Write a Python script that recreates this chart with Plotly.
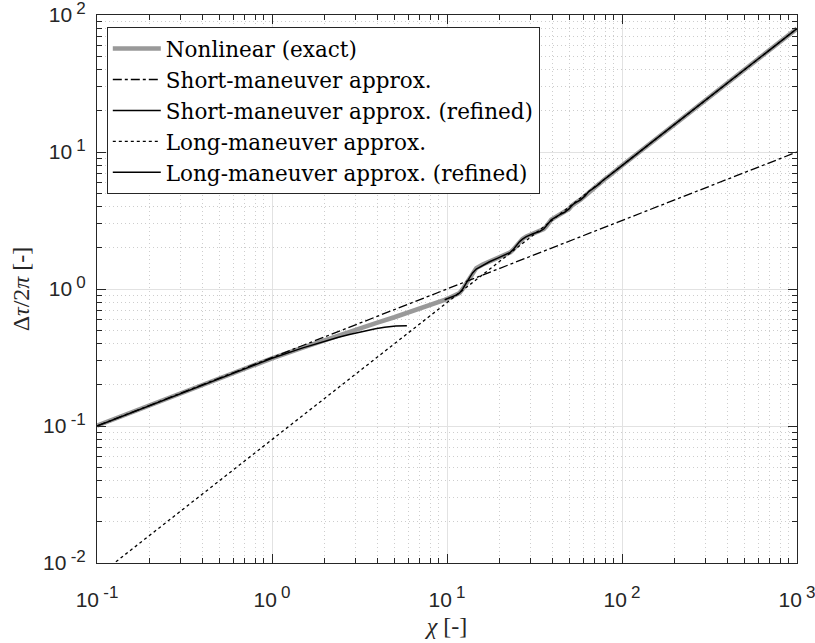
import plotly.graph_objects as go

# --- data -------------------------------------------------------------
# Nonlinear (exact) solution, chi vs delta-tau / 2pi
chi_exact = [0.1, 0.2, 0.5, 1.0, 1.5, 2.0, 3.0, 4.0, 5.0, 6.0, 7.0, 8.0, 9.0,
             9.7, 10.5, 11.2, 11.8, 12.3, 12.9, 13.45, 14.0, 14.7, 16.0, 17.5,
             19.5, 21.8, 23.0, 23.8, 24.6, 25.3, 26.0, 27.0, 28.4, 31.0, 33.8,
             35.7, 36.9, 38.2, 39.4, 41.2, 43.9, 47.0, 49.8, 51.3, 52.8, 55.0,
             58.0, 61.5, 63.2, 64.5, 67.0, 71.0, 74.5, 76.2, 78.0, 80.0, 84.0,
             87.8, 89.5, 92.0, 96.0, 100.0, 150.0, 200.0, 300.0, 500.0, 1000.0]
tau_exact = [0.1006, 0.1420, 0.2228, 0.312, 0.374, 0.425, 0.505, 0.568, 0.622,
             0.672, 0.717, 0.758, 0.797, 0.834, 0.870, 0.900, 0.935, 1.00, 1.10,
             1.23, 1.33, 1.42, 1.51, 1.59, 1.68, 1.78, 1.85, 1.93, 2.04, 2.13,
             2.22, 2.32, 2.42, 2.53, 2.63, 2.74, 2.86, 3.04, 3.20, 3.32, 3.48,
             3.63, 3.84, 4.02, 4.17, 4.30, 4.48, 4.78, 5.02, 5.15, 5.32, 5.60,
             5.88, 6.07, 6.22, 6.36, 6.65, 6.98, 7.14, 7.32, 7.62, 7.96, 11.94,
             15.92, 23.87, 39.79, 79.6]

# Short-maneuver approximation (straight line on log-log axes)
chi_short = [0.1, 1000.0]
tau_short = [0.1, 10.0]

# Short-maneuver approximation, refined
chi_short_ref = [0.1, 0.3, 1.0, 1.5, 2.0, 2.4, 2.77, 3.3, 3.9, 4.4, 5.1, 5.9]
tau_short_ref = [0.1, 0.173, 0.312, 0.372, 0.418, 0.445, 0.465, 0.490, 0.512,
                 0.525, 0.536, 0.540]

# Long-maneuver approximation (straight line on log-log axes)
chi_long = [0.1, 1000.0]
tau_long = [0.00796, 79.6]

# Long-maneuver approximation, refined
chi_long_ref = [9.7, 10.5, 11.2, 11.8, 12.3, 12.9, 13.45, 14.0, 14.7, 16.0,
                17.5, 19.5, 21.8, 23.0, 23.8, 24.6, 25.3, 26.0, 27.0, 28.4,
                31.0, 33.8, 35.7, 36.9, 38.2, 39.4, 41.2, 43.9, 47.0, 49.8,
                51.3, 52.8, 55.0, 58.0, 61.5, 63.2, 64.5, 67.0, 71.0, 74.5,
                76.2, 78.0, 80.0, 84.0, 87.8, 89.5, 92.0, 96.0, 100.0, 150.0,
                200.0, 300.0, 500.0, 1000.0]
tau_long_ref = [0.834, 0.868, 0.898, 0.935, 1.00, 1.11, 1.22, 1.31, 1.40, 1.49,
                1.58, 1.68, 1.78, 1.85, 1.93, 2.04, 2.13, 2.22, 2.31, 2.41,
                2.53, 2.63, 2.74, 2.86, 3.04, 3.20, 3.32, 3.48, 3.63, 3.84,
                4.02, 4.17, 4.30, 4.48, 4.78, 5.02, 5.15, 5.32, 5.60, 5.88,
                6.07, 6.22, 6.36, 6.65, 6.98, 7.14, 7.32, 7.62, 7.96, 11.94,
                15.92, 23.87, 39.79, 79.6]

# axis ticks
x_tickvals = [0.1, 1, 10, 100, 1000]
x_exponents = ["-1", "0", "1", "2", "3"]
y_tickvals = [0.01, 0.1, 1, 10, 100]
y_exponents = ["-2", "-1", "0", "1", "2"]
x_minor = [m * 10 ** e for e in (-1, 0, 1, 2) for m in range(2, 10)]
y_minor = [m * 10 ** e for e in (-2, -1, 0, 1) for m in range(2, 10)]


def power_label(exp):
    return "10\u2009<sup><span style='font-size:17px'>" + exp + "</span></sup>"


# --- figure -----------------------------------------------------------
AX = "#262626"
SERIF = "Liberation Serif, DejaVu Serif, serif"
LEGEND_FONT = "DejaVu Serif, serif"
SANS = "Liberation Sans, Arial, sans-serif"

fig = go.Figure()
fig.add_trace(go.Scatter(x=chi_exact, y=tau_exact, mode="lines",
                         name="Nonlinear (exact)",
                         line=dict(color="#999999", width=4.5)))
fig.add_trace(go.Scatter(x=chi_short, y=tau_short, mode="lines",
                         name="Short-maneuver approx.",
                         line=dict(color="black", width=1.3, dash="dashdot")))
fig.add_trace(go.Scatter(x=chi_short_ref, y=tau_short_ref, mode="lines",
                         name="Short-maneuver approx. (refined)",
                         line=dict(color="black", width=1.5)))
fig.add_trace(go.Scatter(x=chi_long, y=tau_long, mode="lines",
                         name="Long-maneuver approx.",
                         line=dict(color="black", width=1.3, dash="dot")))
fig.add_trace(go.Scatter(x=chi_long_ref, y=tau_long_ref, mode="lines",
                         name="Long-maneuver approx. (refined)",
                         line=dict(color="black", width=1.5)))

axis_common = dict(
    type="log", automargin=False,
    showline=True, linecolor=AX, linewidth=1, mirror="ticks",
    ticks="inside", ticklen=9, tickcolor=AX, tickwidth=1,
    showgrid=True, gridcolor="#e2e2e2", gridwidth=1,
    zeroline=False, ticklabeloverflow="allow",
    tickfont=dict(family=SANS, size=21, color=AX),
)
minor_common = dict(ticks="inside", ticklen=5, tickcolor=AX, showgrid=True,
                    gridcolor="#cdcdcd", griddash="1px,3px", gridwidth=1)

fig.update_layout(
    width=815, height=643,
    margin=dict(l=97, r=18, t=15, b=80),
    paper_bgcolor="white", plot_bgcolor="white",
    showlegend=True,
    legend=dict(x=0.014, y=0.978, xanchor="left", yanchor="top",
                bgcolor="white", bordercolor=AX, borderwidth=1,
                font=dict(family=LEGEND_FONT, size=21.5, color="black"),
                itemwidth=48, tracegroupgap=0),
    xaxis=dict(axis_common, range=[-1, 3], tickmode="array",
               tickvals=x_tickvals,
               ticktext=[power_label(e) for e in x_exponents],
               ticklabelstandoff=18,
               minor=dict(minor_common, tickmode="array", tickvals=x_minor),
               title=dict(text="<i>χ</i> [-]", standoff=6,
                          font=dict(family=SERIF, size=24, color=AX))),
    yaxis=dict(axis_common, range=[-2, 2], tickmode="array",
               tickvals=y_tickvals,
               ticktext=[power_label(e) for e in y_exponents],
               ticklabelstandoff=6,
               minor=dict(minor_common, tickmode="array", tickvals=y_minor),
               title=dict(text="Δ<i>τ</i>/2<i>π</i> [-]", standoff=6,
                          font=dict(family=SERIF, size=24, color=AX))),
)

fig.write_html("out.html")
